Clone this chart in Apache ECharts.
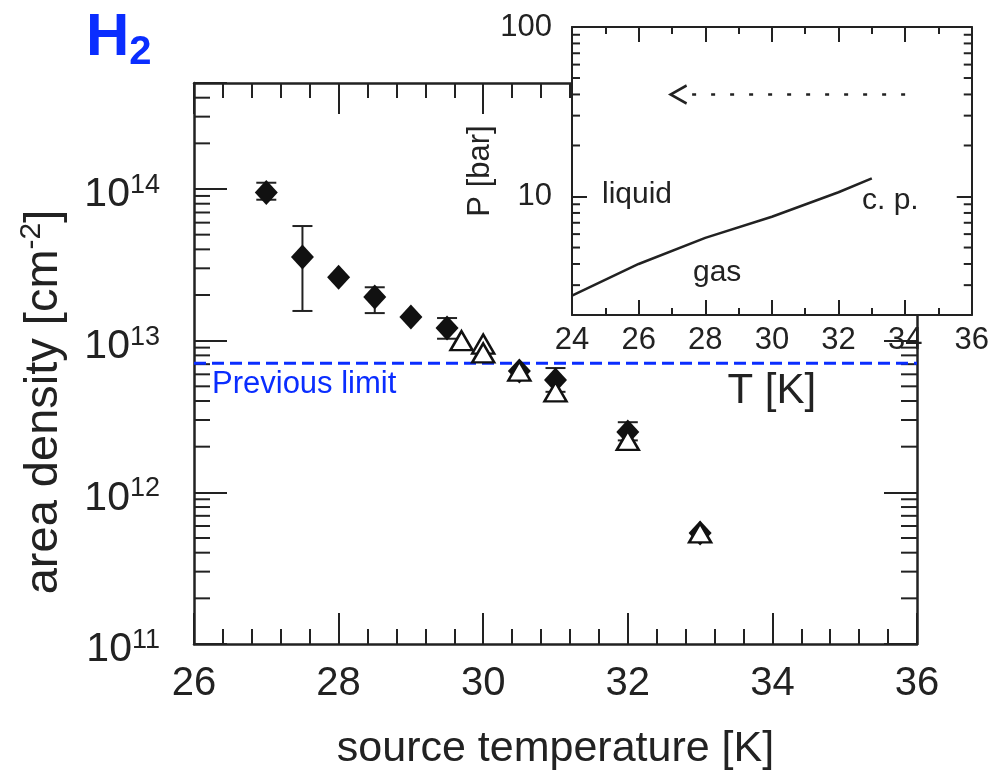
<!DOCTYPE html>
<html>
<head>
<meta charset="utf-8">
<script src="https://cdn.jsdelivr.net/npm/echarts@6/dist/echarts.min.js"></script>
<style>
html, body { margin: 0; padding: 0; background: #fff; }
#chart { width: 992px; height: 777px; }
</style>
</head>
<body>
<div id="chart"></div>
<script>
// main panel: H2 area density vs source temperature
const diamondT = [27, 27.5, 28, 28.5, 29, 29.5, 30.5, 31, 32, 33];
const diamondN = [9.5e13, 3.56e13, 2.62e13, 1.94e13, 1.43e13, 1.21e13, 6.3e12, 5.5e12, 2.5e12, 5.4e11];
const errT = [27, 27.5, 28.5, 29.5, 31, 32];
const errLow = [8.5e13, 1.57e13, 1.52e13, 1.03e13, 4.6e12, 2.2e12];
const errHigh = [1.1e14, 5.7e13, 2.25e13, 1.41e13, 6.6e12, 2.9e12];
const triT = [29.7, 30, 30, 30.5, 31, 32, 33];
const triN = [1.0e13, 9.5e12, 8.3e12, 6.3e12, 4.6e12, 2.2e12, 5.4e11];
const limitT = [26, 36];
const previousLimit = 7.1e12;

// inset: vapour pressure curve up to the critical point
const curveT = [24, 26, 28, 30, 32, 33];
const curveP = [2.6, 4.0, 5.7, 7.6, 10.6, 12.8];
const arrowT = [34, 27.2];
const arrowP = [40, 40];

const INK = '#222';
const BLUE = '#0a2dff';
const FONT = 'Liberation Sans';

const zip = (a, b) => a.map((v, i) => [v, b[i]]);
const isDecade = v => Math.abs(Math.log10(v) - Math.round(Math.log10(v))) < 1e-6;

// minor ticks of the log axes (2..9 per decade)
const mainMinor = [];
for (let k = 11; k <= 14; k++) for (let m = 2; m <= 9; m++) if (m * Math.pow(10, k) <= 5e14) mainMinor.push([26, m * Math.pow(10, k)]);
const insetMinor = [];
for (let k = 0; k <= 1; k++) for (let m = 2; m <= 9; m++) if (m * Math.pow(10, k) > 2) insetMinor.push([24, m * Math.pow(10, k)]);

function minorTicks(len) {
    return function (params, api) {
        const cs = params.coordSys;
        const y = api.coord([api.value(0), api.value(1)])[1];
        const style = { stroke: INK, lineWidth: 2 };
        return {
            type: 'group',
            children: [
                { type: 'line', shape: { x1: cs.x, y1: y, x2: cs.x + len, y2: y }, style },
                { type: 'line', shape: { x1: cs.x + cs.width, y1: y, x2: cs.x + cs.width - len, y2: y }, style }
            ]
        };
    };
}

function errorBar(params, api) {
    const x = api.value(0);
    const lo = api.coord([x, api.value(1)]);
    const hi = api.coord([x, api.value(2)]);
    const style = { stroke: INK, lineWidth: 2 };
    const cap = 10;
    return {
        type: 'group',
        children: [
            { type: 'line', shape: { x1: lo[0], y1: lo[1], x2: hi[0], y2: hi[1] }, style },
            { type: 'line', shape: { x1: lo[0] - cap, y1: lo[1], x2: lo[0] + cap, y2: lo[1] }, style },
            { type: 'line', shape: { x1: hi[0] - cap, y1: hi[1], x2: hi[0] + cap, y2: hi[1] }, style }
        ]
    };
}

const axisLine = { lineStyle: { color: INK, width: 2.5 } };

function mainX(pos, show) {
    return {
        gridIndex: 0, type: 'value', position: pos, min: 26, max: 36, interval: 2,
        axisLine, splitLine: { show: false },
        axisTick: { inside: true, length: 31, lineStyle: { color: INK, width: 2 } },
        minorTick: { show: true, splitNumber: 5, length: 15, lineStyle: { color: INK, width: 2 } },
        axisLabel: { show, fontSize: 40, margin: 20, color: INK, fontFamily: FONT },
        name: show ? 'source temperature [K]' : '', nameLocation: 'middle', nameGap: 84,
        nameTextStyle: { fontSize: 43, color: INK, fontFamily: FONT }
    };
}

function mainY(pos, show) {
    return {
        gridIndex: 0, type: 'log', logBase: 10, position: pos, min: 1e11, max: 5e14,
        axisLine, splitLine: { show: false },
        axisTick: { inside: true, length: 33, lineStyle: { color: INK, width: 2 } },
        axisLabel: {
            show, margin: 34, color: INK, fontFamily: FONT, padding: [12, 0, 0, 0],
            formatter: v => isDecade(v) ? '{b|10}{s|' + Math.round(Math.log10(v)) + '}' : '',
            rich: {
                b: { fontSize: 41, lineHeight: 46, fontFamily: FONT, color: INK },
                s: { fontSize: 27, verticalAlign: 'top', fontFamily: FONT, color: INK }
            }
        }
    };
}

function insetX(pos, show) {
    return {
        gridIndex: 1, type: 'value', position: pos, min: 24, max: 36, interval: 2, z: 6,
        axisLine: { lineStyle: { color: INK, width: 2 } }, splitLine: { show: false },
        axisTick: { inside: true, length: 15, lineStyle: { color: INK, width: 2 } },
        minorTick: { show: true, splitNumber: 2, length: 7, lineStyle: { color: INK, width: 2 } },
        axisLabel: { show, fontSize: 31, margin: 10, color: INK, fontFamily: FONT },
        name: show ? 'T [K]' : '', nameLocation: 'middle', nameGap: 55,
        nameTextStyle: { fontSize: 42, color: INK, fontFamily: FONT }
    };
}

function insetY(pos, show) {
    return {
        gridIndex: 1, type: 'log', logBase: 10, position: pos, min: 2, max: 100, z: 6,
        axisLine: { lineStyle: { color: INK, width: 2 } }, splitLine: { show: false },
        axisTick: { inside: true, length: 15, lineStyle: { color: INK, width: 2 } },
        axisLabel: {
            show, fontSize: 31, margin: 20, color: INK, fontFamily: FONT,
            formatter: v => isDecade(v) ? String(Math.round(v)) : ''
        },
        name: show ? 'P [bar]' : '', nameLocation: 'middle', nameRotate: 90, nameGap: 52,
        nameTextStyle: { fontSize: 31, color: INK, fontFamily: FONT }
    };
}

const chart = echarts.init(document.getElementById('chart'), null, { renderer: 'canvas' });

chart.setOption({
    backgroundColor: '#fff',
    animation: false,
    textStyle: { fontFamily: FONT },
    grid: [
        { left: 194, top: 83, width: 723, height: 561 },
        { left: 572, top: 27, width: 400, height: 288, show: true, backgroundColor: '#fff', borderWidth: 0, z: 5 }
    ],
    xAxis: [mainX('bottom', true), mainX('top', false), insetX('bottom', true), insetX('top', false)],
    yAxis: [mainY('left', true), mainY('right', false), insetY('left', true), insetY('right', false)],
    graphic: [
        {
            type: 'text', left: 86, top: 8,
            style: {
                text: '{h|H}{i|2}',
                rich: {
                    h: { fontSize: 60, fontWeight: 'bold', fill: BLUE, fontFamily: FONT, lineHeight: 70 },
                    i: { fontSize: 40, fontWeight: 'bold', fill: BLUE, fontFamily: FONT, verticalAlign: 'bottom' }
                }
            }
        },
        {
            type: 'text', x: 44, y: 402, rotation: Math.PI / 2,
            style: {
                text: '{a|area density [cm}{s|-2}{a|]}',
                align: 'center', verticalAlign: 'middle',
                rich: {
                    a: { fontSize: 47, lineHeight: 54, fill: INK, fontFamily: FONT },
                    s: { fontSize: 30, verticalAlign: 'top', fill: INK, fontFamily: FONT }
                }
            }
        },
        {
            type: 'text', left: 212, top: 369,
            style: { text: 'Previous limit', fontSize: 31, fill: BLUE, fontFamily: FONT }
        },
        {
            type: 'text', left: 602, top: 180, z: 10,
            style: { text: 'liquid', fontSize: 30, fill: INK, fontFamily: FONT }
        },
        {
            type: 'text', left: 862, top: 186, z: 10,
            style: { text: 'c. p.', fontSize: 30, fill: INK, fontFamily: FONT }
        },
        {
            type: 'text', left: 693, top: 258, z: 10,
            style: { text: 'gas', fontSize: 30, fill: INK, fontFamily: FONT }
        }
    ],
    series: [
        {
            type: 'custom', xAxisIndex: 0, yAxisIndex: 0, z: 1, clip: false, silent: true,
            renderItem: minorTicks(16), data: mainMinor
        },
        {
            type: 'line', xAxisIndex: 0, yAxisIndex: 0, z: 2, symbol: 'none',
            lineStyle: { color: BLUE, width: 3, type: [12, 6] },
            data: limitT.map(t => [t, previousLimit])
        },
        {
            type: 'custom', xAxisIndex: 0, yAxisIndex: 0, z: 3,
            renderItem: errorBar, data: errT.map((t, i) => [t, errLow[i], errHigh[i]])
        },
        {
            type: 'scatter', xAxisIndex: 0, yAxisIndex: 0, z: 4,
            symbol: 'diamond', symbolSize: [23, 25],
            itemStyle: { color: '#111', opacity: 1 },
            data: zip(diamondT, diamondN)
        },
        {
            type: 'scatter', xAxisIndex: 0, yAxisIndex: 0, z: 4,
            symbol: 'triangle', symbolSize: [22, 19],
            itemStyle: { color: '#fff', borderColor: '#111', borderWidth: 2.5, opacity: 1 },
            data: zip(triT, triN)
        },
        {
            type: 'custom', xAxisIndex: 2, yAxisIndex: 2, z: 7, clip: false, silent: true,
            renderItem: minorTicks(8), data: insetMinor
        },
        {
            type: 'line', xAxisIndex: 2, yAxisIndex: 2, z: 7, symbol: 'none',
            lineStyle: { color: INK, width: 2.5 },
            data: zip(curveT, curveP)
        },
        {
            type: 'line', xAxisIndex: 2, yAxisIndex: 2, z: 7,
            lineStyle: { color: INK, width: 2.5, type: [4, 15] },
            data: zip(arrowT, arrowP).map((p, i) => i === arrowT.length - 1
                ? { value: p, symbol: 'path://M10,0 L0,6 L10,12', symbolSize: [16, 18], symbolKeepAspect: false,
                    itemStyle: { color: 'none', borderColor: INK, borderWidth: 2.5 } }
                : { value: p, symbol: 'none' }),
            showSymbol: true
        }
    ]
});
</script>
</body>
</html>
